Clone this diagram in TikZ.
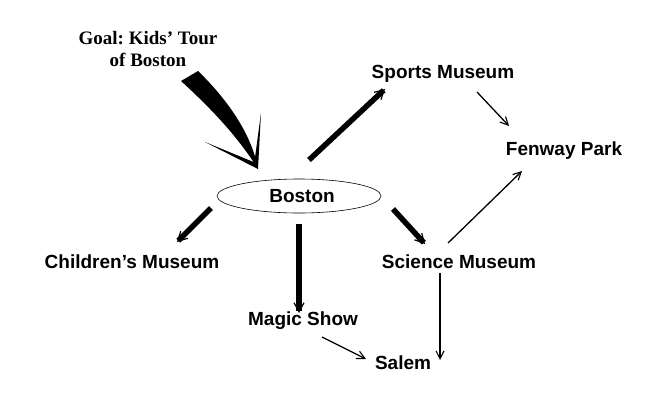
\documentclass[tikz,border=0pt]{standalone}
\usepackage{fontspec}
\setmainfont{Liberation Sans}
\newfontfamily\goalfont{Liberation Serif}
\usetikzlibrary{arrows.meta,shapes.geometric}
\frenchspacing
\begin{document}
\begin{tikzpicture}[x=1pt,y=-1pt,
  place/.style={font=\fontsize{19}{21}\selectfont\bfseries, inner sep=0pt},
  heavy/.style={line width=5.5pt, -{Straight Barb[length=9pt,width=10pt,line width=1.2pt]}},
  light/.style={line width=1.3pt, -{Straight Barb[length=8pt,width=8pt,line width=1.1pt]}}]
\useasboundingbox[fill=white] (0,0) rectangle (652,402);

% places
\node[place] (sports)   at (443,74)  {Sports Museum};
\node[place] (fenway)   at (564,151) {Fenway Park};
\node[draw, ellipse, line width=0.6pt, minimum width=164pt, minimum height=34pt, inner sep=0pt] (boston) at (299,196) {};
\node[place] (bostont)  at (302,196) {Boston};
\node[place] (children) at (132,262) {Children’s Museum};
\node[place] (science)  at (459,262) {Science Museum};
\node[place] (magic)    at (303,321) {Magic Show};
\node[place] (salem)    at (403,363) {Salem};

% the goal label
\node[font=\goalfont\fontsize{19}{22}\selectfont\bfseries, align=center] (goal) at (148,49) {Goal: Kids’ Tour\\of Boston};

% the goal arrow: tapered curved shaft and two thin barbs
\coordinate (tip) at (258,169);
\fill (181,81) .. controls (215,112) and (240,140) .. (tip)
      .. controls (252,135) and (228,100) .. (198,71) -- cycle;
\fill (205,142) -- (tip) -- (256,163) -- cycle;
\fill (261,113) -- (tip) -- (254,165) -- cycle;

% heavy connectors from Boston
\coordinate (b1) at (309,160);
\coordinate (b2) at (211,208);
\coordinate (b3) at (299,224);
\coordinate (b4) at (393,209);
\coordinate (e1) at (385,89);
\coordinate (e2) at (177,242);
\coordinate (e3) at (299,313);
\coordinate (e4) at (425,244);
\draw[heavy] (b1) -- (e1);
\draw[heavy] (b2) -- (e2);
\draw[heavy] (b3) -- (e3);
\draw[heavy] (b4) -- (e4);

% light connectors
\draw[light] (477,92) -- (509,126);
\draw[light] (448,243) -- (522,171);
\draw[light] (440,273) -- (440,360);
\draw[light] (322,337) -- (366,359);
\end{tikzpicture}
\end{document}
